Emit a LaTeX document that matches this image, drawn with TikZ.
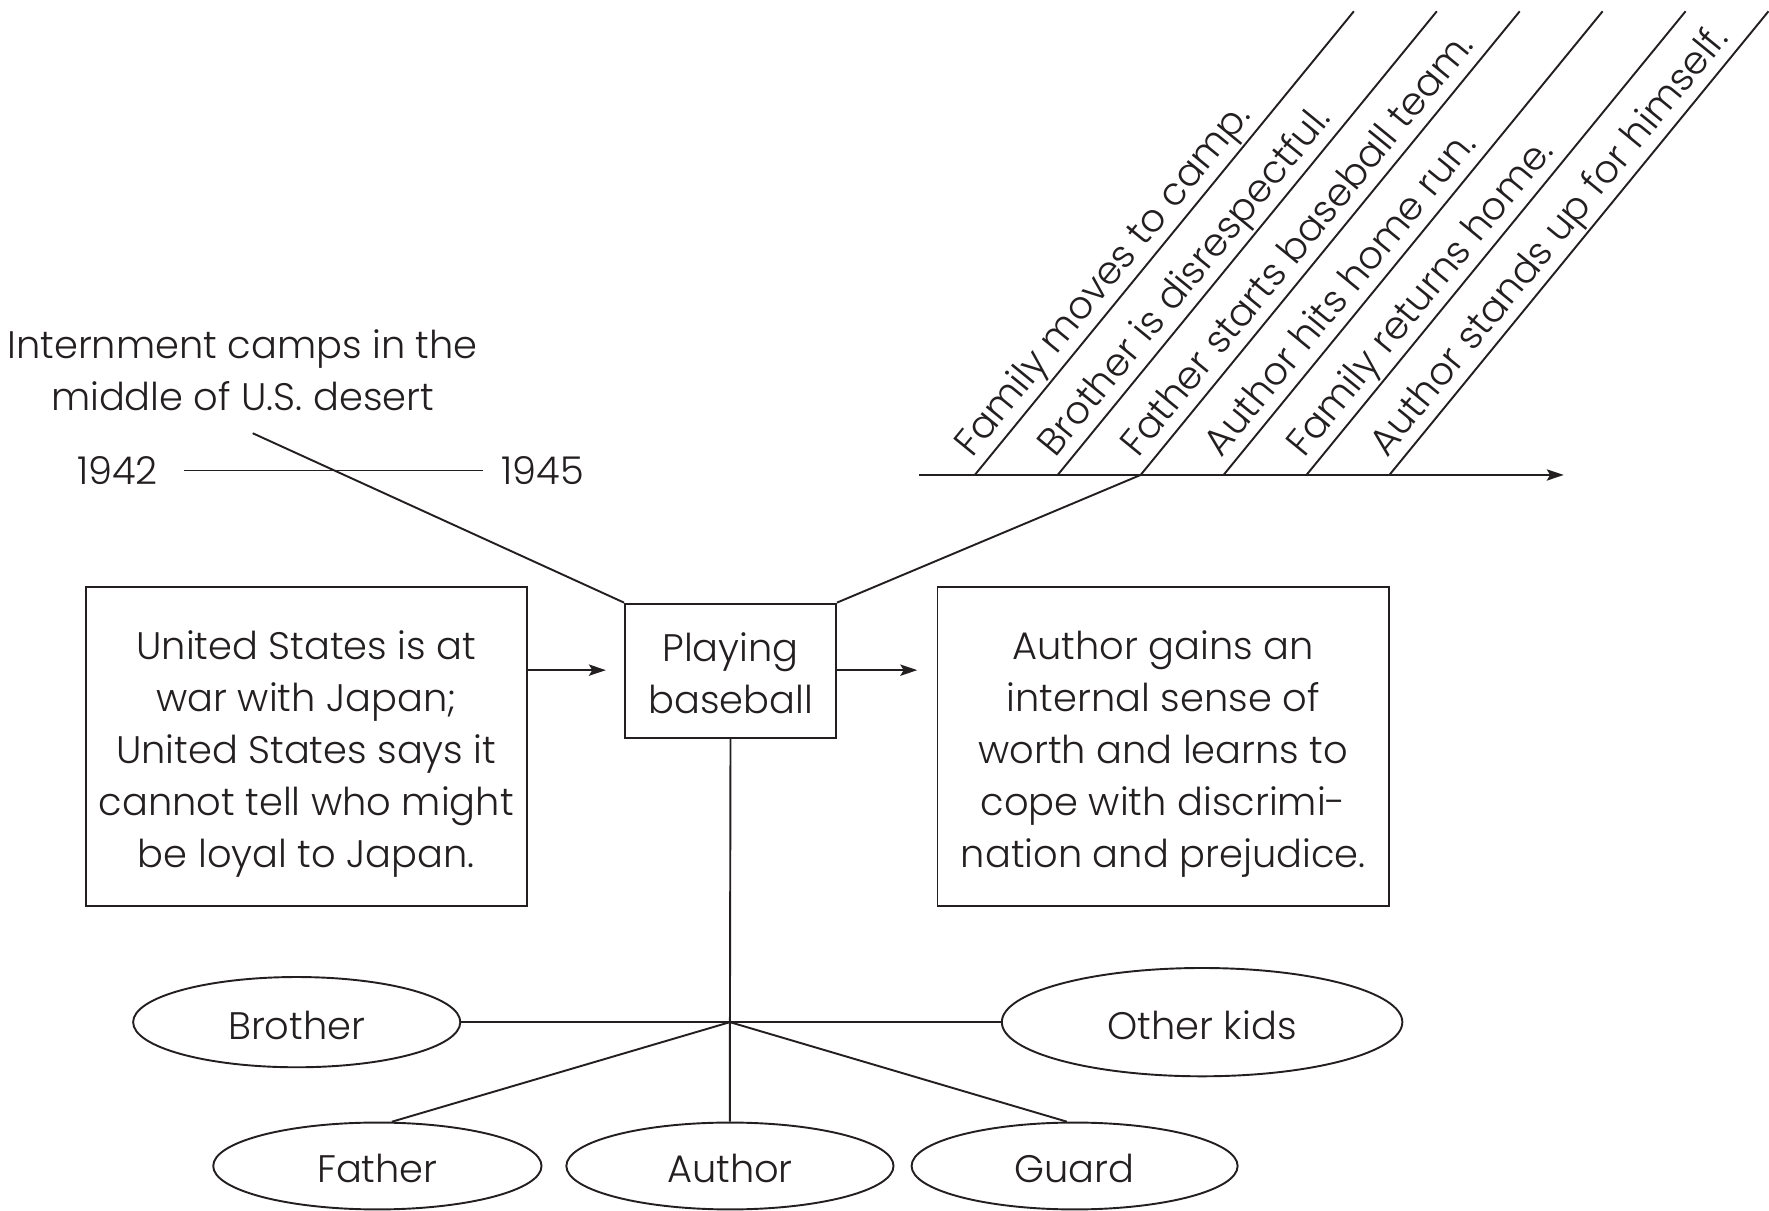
\documentclass[tikz,border=0pt]{standalone}
\usepackage{fontspec}
\setmainfont{Poppins Light}
\usetikzlibrary{arrows.meta,calc,shapes.geometric}
\definecolor{ink}{HTML}{231F20}
\tikzset{
  txt/.style={font=\fontsize{34}{46}\selectfont, text=ink, inner sep=0pt},
  frame/.style={draw=ink, line width=1.7pt, inner sep=0pt},
  oval/.style={draw=ink, line width=1.7pt, ellipse, txt, inner sep=0pt, text height=30pt, text depth=0pt},
  conn/.style={draw=ink, line width=1.7pt},
  arr/.style={conn, -{Stealth[length=15pt,width=10pt,inset=3pt]}},
  rot/.style={txt, anchor=base west, rotate=50.73},
}
\begin{document}
\begin{tikzpicture}[x=1pt,y=1pt]
\useasboundingbox (0,0) rectangle (1568,-1073);

% top-left labels
\node[txt, align=center] (camps) at (215,-328) {Internment camps in the\\middle of U.S. desert};
\node[txt] (y1942) at (104,-417) {1942};
\node[txt] (y1945) at (481,-417) {1945};
\draw[conn] ([xshift=23pt]y1942.east) -- ([xshift=-16pt]y1945.west);
\coordinate (campend) at (224,-384);

% boxes
\node[frame, minimum width=391pt, minimum height=283pt] (cause) at (271.5,-661.5) {};
\node[txt, align=center] (causetext) at ([yshift=-7pt]cause.center)
  {United States is at\\war with Japan;\\United States says it\\cannot tell who might\\be loyal to Japan.};
\node[frame, minimum width=187pt, minimum height=119pt] (play) at (647.5,-594.5) {};
\node[txt, align=center] (playtext) at ([yshift=-2pt]play.center) {Playing\\baseball};
\node[frame, minimum width=400pt, minimum height=283pt] (effect) at (1031,-661.5) {};
\node[txt, align=center] (effecttext) at ([yshift=-7pt]effect.center)
  {Author gains an\\internal sense of\\worth and learns to\\cope with discrimi-\\nation and prejudice.};

\draw[arr] (cause.east |- 0,-594) -- (537,-594) coordinate (a1);
\draw[arr] (play.east |- 0,-594) -- (813,-594) coordinate (a2);

% timeline
\coordinate (tl0) at (815,-421);
\coordinate (tl1) at (1386,-421);
\draw[arr] (tl0) -- (tl1);

\foreach \i/\x/\t in {1/864/{Family moves to camp.},
                     2/937.5/{Brother is disrespectful.},
                     3/1011/{Father starts baseball team.},
                     4/1084.5/{Author hits home run.},
                     5/1158/{Family returns home.},
                     6/1231.5/{Author stands up for himself.}}{
  \coordinate (b\i) at (\x,-421);
  \coordinate (t\i) at ($(b\i)+(50.73:530.9)$);
  \draw[conn] (b\i) -- (t\i);
  \node[rot] (ev\i) at ($(b\i)+(50.73:10)+(140.73:11)$) {\t};
}

\draw[conn] (campend) -- (play.north west);
\draw[conn] (play.north east) -- (b3);

% characters
\node[oval, minimum width=290pt, minimum height=80pt] (brother) at (263,-906) {Brother};
\node[oval, minimum width=355pt, minimum height=96pt] (kids) at (1065.5,-906) {Other kids};
\node[oval, minimum width=291pt, minimum height=77pt] (father) at (334.5,-1033.5) {Father};
\node[oval, minimum width=290pt, minimum height=77pt] (author) at (647,-1033.5) {Author};
\node[oval, minimum width=289pt, minimum height=77pt] (guard) at (952.5,-1033.5) {Guard};

\coordinate (j) at (647,-906);
\draw[conn] (play.south) -- (j) -- (author.north);
\draw[conn] (brother.east) -- (j) -- (kids.west);
\draw[conn] (father.72) -- (j) -- (guard.100);
\end{tikzpicture}
\end{document}
